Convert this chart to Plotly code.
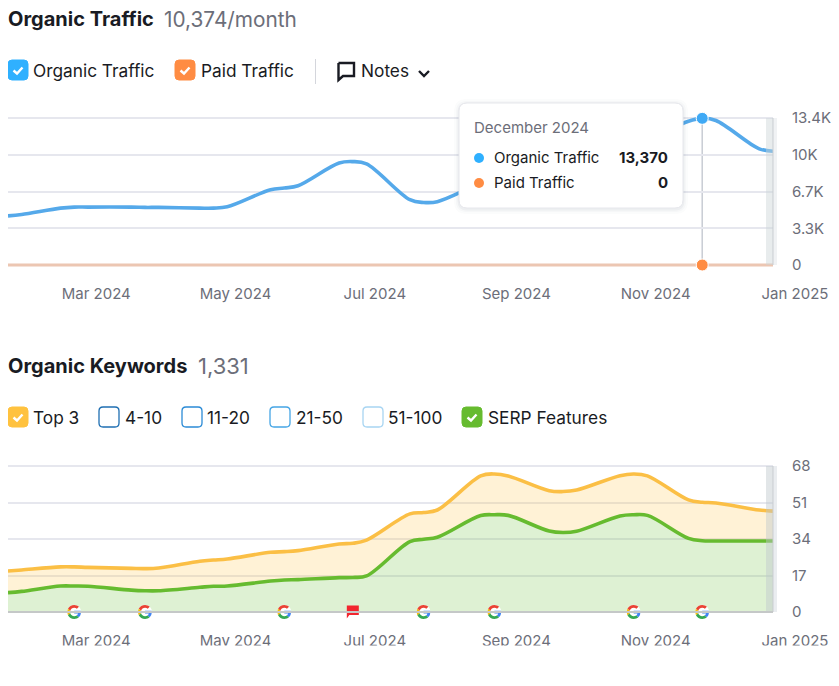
import base64
import plotly.graph_objects as go

W, H = 839, 686
BODY = 8  # page margin the browser puts around the figure
FONT = "Inter"

# read off the curve on the 1st of each month and about 6 days either side of it
# (Aug 26 - Nov 7 of the traffic line is behind the tooltip, so those are estimates)
dates = ["2024-02-01", "2024-02-07", "2024-02-24", "2024-03-01", "2024-03-07", "2024-03-26", "2024-04-01",
         "2024-04-07", "2024-04-25", "2024-05-01", "2024-05-07", "2024-05-26", "2024-06-01", "2024-06-07",
         "2024-06-25", "2024-07-01", "2024-07-07", "2024-07-26", "2024-08-01", "2024-08-07", "2024-08-26",
         "2024-09-01", "2024-09-07", "2024-09-25", "2024-10-01", "2024-10-07", "2024-10-26", "2024-11-01",
         "2024-11-07", "2024-11-25", "2024-12-01", "2024-12-07", "2024-12-26", "2025-01-01"]
organic_traffic = [4480, 4605, 5185, 5280, 5280, 5280, 5250, 5250, 5185, 5185, 5305, 6860, 7015, 7230,
                   9300, 9425, 9220, 5950, 5700, 5765, 7400, 7600, 7700, 8400, 8500, 8700, 10500, 11000,
                   11400, 13110, 13370, 13170, 10590, 10374]
paid_traffic = [0, 0, 0, 0, 0, 0, 0, 0, 0, 0, 0, 0, 0, 0, 0, 0, 0,
                0, 0, 0, 0, 0, 0, 0, 0, 0, 0, 0, 0, 0, 0, 0, 0, 0]
top3 = [19.1, 19.6, 21.0, 21.0, 20.8, 20.3, 20.2, 20.5, 23.6, 24.2, 24.7, 27.8, 28.1, 28.6, 31.7, 32.0, 33.5,
        45.7, 46.3, 47.5, 63.4, 64.3, 63.4, 56.5, 56.1, 56.8, 63.5, 64.3, 63.4, 52.2, 51.1, 50.8, 47.5, 47.0]
serp_features = [9.0, 9.6, 12.1, 12.1, 12.0, 10.2, 9.9, 9.9, 11.5, 12.0, 12.1, 14.4, 14.9, 15.1, 16.0, 16.1, 16.8,
                 32.8, 33.9, 34.8, 44.9, 45.3, 45.0, 37.7, 37.0, 37.6, 44.7, 45.3, 45.0, 34.3, 33.2, 33.1, 33.1, 33.1]

tick_months = ["2024-03-01", "2024-05-01", "2024-07-01", "2024-09-01", "2024-11-01", "2025-01-01"]
tick_labels = ["Mar 2024", "May 2024", "Jul 2024", "Sep 2024", "Nov 2024", "Jan 2025"]
traffic_ticks = [0, 3350, 6700, 10050, 13400]
traffic_tick_labels = ["0", "3.3K", "6.7K", "10K", "13.4K"]
keyword_ticks = [0, 17, 34, 51, 68]
keyword_tick_labels = ["0", "17", "34", "51", "68"]

google_updates = ["2024-03-01", "2024-04-01", "2024-06-01", "2024-08-01", "2024-09-01", "2024-11-01", "2024-12-01"]
flag_notes = ["2024-07-01"]
hover_index = dates.index("2024-12-01")

BLUE = "#55a9ea"
ORANGE = "#ff8c43"
YELLOW = "#fbbf45"
GREEN = "#66bb2f"
INK = "#191b23"
GREY = "#6c6e79"
GRID = "#e6e7ee"

FIG_W = W - BODY
FIG_H = H - BODY


def px(x):
    return (x - BODY) / FIG_W


def py(y):
    return 1 - (y - BODY) / FIG_H


def round_box(x0, y0, x1, y1, r):
    return (f"M{px(x0 + r)},{py(y0)} L{px(x1 - r)},{py(y0)} Q{px(x1)},{py(y0)} {px(x1)},{py(y0 + r)} "
            f"L{px(x1)},{py(y1 - r)} Q{px(x1)},{py(y1)} {px(x1 - r)},{py(y1)} "
            f"L{px(x0 + r)},{py(y1)} Q{px(x0)},{py(y1)} {px(x0)},{py(y1 - r)} "
            f"L{px(x0)},{py(y0 + r)} Q{px(x0)},{py(y0)} {px(x0 + r)},{py(y0)} Z")


def polyline(points):
    return "M" + " L".join(f"{px(x)},{py(y)}" for x, y in points)


shapes = []
annotations = []


def text(x, y, s, size=17.3, color=INK, weight=400, anchor="left"):
    nudge = -1 if anchor == "left" else 1
    annotations.append(dict(x=px(x + nudge), y=py(y), xref="paper", yref="paper", text=s, showarrow=False,
                            xanchor=anchor, yanchor="middle", borderpad=0,
                            font=dict(family=FONT, size=size, color=color, weight=weight)))


def checkbox(x, y, color, checked=True):
    if checked:
        shapes.append(dict(type="path", xref="paper", yref="paper", path=round_box(x, y, x + 20, y + 20, 4),
                           fillcolor=color, line=dict(color=color, width=1)))
        shapes.append(dict(type="path", xref="paper", yref="paper",
                           path=polyline([(x + 5.5, y + 10.5), (x + 9, y + 13.5), (x + 14.5, y + 7.5)]),
                           line=dict(color="white", width=2.4)))
    else:
        shapes.append(dict(type="path", xref="paper", yref="paper", path=round_box(x, y, x + 20, y + 20, 4),
                           fillcolor="white", line=dict(color=color, width=1.3)))


def line_shape(x0, y0, x1, y1, color, width=1, layer="above"):
    shapes.append(dict(type="line", xref="paper", yref="paper", x0=px(x0), y0=py(y0), x1=px(x1), y1=py(y1),
                       layer=layer, line=dict(color=color, width=width)))


def band(x0, x1, y0, y1, color):
    shapes.append(dict(type="rect", xref="paper", yref="paper", x0=px(x0), x1=px(x1), y0=py(y0), y1=py(y1),
                       fillcolor=color, line=dict(width=0)))


# headers
text(8, 19, "Organic Traffic", size=20, weight=700)
text(164, 19.5, "10,374/month", size=20.8, color=GREY)
checkbox(8, 60, "#2fb0ff")
text(33, 70.5, "Organic Traffic")
checkbox(175, 60, ORANGE)
text(201, 70.5, "Paid Traffic")
line_shape(315.5, 59, 315.5, 84, "#d4d6dc")
shapes.append(dict(type="path", xref="paper", yref="paper",
                   path=polyline([(338.5, 63), (354, 63), (354, 76), (343, 76), (338.5, 80), (338.5, 63)]),
                   line=dict(color=INK, width=2.4)))
text(361, 70.5, "Notes")
shapes.append(dict(type="path", xref="paper", yref="paper",
                   path=polyline([(419, 71), (424, 76), (429, 71)]), line=dict(color=INK, width=2.4)))

text(8, 366, "Organic Keywords", size=20, weight=700)
text(198, 366, "1,331", size=22, color=GREY)
checkbox(8, 407, "#ffc23f")
text(33, 417.5, "Top 3")
checkbox(99, 407, "#1f6fb2", checked=False)
text(125, 417.5, "4-10")
checkbox(182, 407, "#2b8bd6", checked=False)
text(207, 417.5, "11-20")
checkbox(270, 407, "#45a5e5", checked=False)
text(296, 417.5, "21-50")
checkbox(363, 407, "#a8d5f2", checked=False)
text(388, 417.5, "51-100")
checkbox(462, 407, GREEN)
text(488, 417.5, "SERP Features")

# end-of-range band, traffic then keywords
band(766, 773, 118, 265, "rgba(205,212,216,0.45)")
band(773, 777, 118, 265, "rgba(225,230,233,0.5)")
line_shape(773, 118, 773, 265, "#c9cdd1", 1)
band(766, 773, 466, 612, "rgba(190,200,205,0.45)")
band(773, 777, 466, 612, "rgba(225,230,233,0.7)")
line_shape(773, 466, 773, 612, "#c9cdd1", 1)
line_shape(8, 612, 773, 612, "#c5c8c8", 2)

# cursor line at the hovered month
shapes.append(dict(type="line", xref="x", yref="y", x0=dates[hover_index], x1=dates[hover_index],
                   y0=0, y1=organic_traffic[hover_index], layer="below", line=dict(color="#c8ccd4", width=1.5)))

# tooltip: soft shadow, then the card
for grow, alpha in [(5, 0.015), (3, 0.025), (1.5, 0.04)]:
    shapes.append(dict(type="path", xref="paper", yref="paper",
                       path=round_box(459 - grow, 103 - grow + 1, 683 + grow, 208 + grow + 1, 8 + grow),
                       fillcolor=f"rgba(30,40,70,{alpha})", line=dict(width=0)))
shapes.append(dict(type="path", xref="paper", yref="paper", path=round_box(459, 103, 683, 208, 8),
                   fillcolor="white", line=dict(color="#e6e7ec", width=1)))
text(474, 127.5, "December 2024", size=15, color=GREY)
shapes.append(dict(type="circle", xref="paper", yref="paper", x0=px(474), x1=px(484), y0=py(153), y1=py(163),
                   fillcolor="#2fb0ff", line=dict(width=0)))
text(494, 157.5, "Organic Traffic", size=15)
text(668, 157.5, f"{organic_traffic[hover_index]:,}", size=15, weight=700, anchor="right")
shapes.append(dict(type="circle", xref="paper", yref="paper", x0=px(474), x1=px(484), y0=py(178), y1=py(188),
                   fillcolor=ORANGE, line=dict(width=0)))
text(494, 182.5, "Paid Traffic", size=15)
text(668, 182.5, f"{paid_traffic[hover_index]:,}", size=15, weight=700, anchor="right")

# the reference crops its tick labels: end of "May 2024" and the descenders under the keywords chart
band(270.5, 274, 283, 303, "white")
band(270.5, 274, 630, 650, "white")
band(8, 839, 645.5, 652, "white")

google_svg = """<svg xmlns="http://www.w3.org/2000/svg" viewBox="0 0 48 48">
<circle cx="24" cy="24" r="24" fill="white"/>
<path fill="#EA4335" d="M24 9.5c3.5 0 6.700 1.200 9.200 3.600l6.900-6.900C35.900 2.400 30.500 0 24 0 14.600 0 6.500 5.400 2.600 13.200l8 6.200C12.400 13.700 17.700 9.500 24 9.500z"/>
<path fill="#4285F4" d="M47 24.500c0-1.600-.1-3.100-.4-4.500H24v9h12.900c-.6 3-2.200 5.500-4.800 7.200l7.700 6C44.400 37.900 47 31.800 47 24.500z"/>
<path fill="#FBBC05" d="M10.500 28.600c-.5-1.500-.8-3-.8-4.600s.3-3.100.8-4.600l-8-6.200C.9 16.500 0 20.100 0 24s.9 7.500 2.600 10.800l7.900-6.200z"/>
<path fill="#34A853" d="M24 48c6.500 0 11.900-2.100 15.900-5.800l-7.700-6c-2.200 1.400-4.900 2.300-8.200 2.300-6.300 0-11.600-4.200-13.500-9.900l-8 6.200C6.500 42.600 14.600 48 24 48z"/>
</svg>"""
flag_svg = """<svg xmlns="http://www.w3.org/2000/svg" viewBox="0 0 14 14">
<path fill="#f2262f" d="M1 0.500H13V10H3.500L1 13.500Z"/></svg>"""


def data_uri(svg):
    return "data:image/svg+xml;base64," + base64.b64encode(svg.encode()).decode()


DAY_MS = 86400000
PX_PER_DAY = 765 / 335
images = []
for d in google_updates:
    images.append(dict(source=data_uri(google_svg), xref="x2", yref="paper", x=d, y=py(612), sizex=14 / PX_PER_DAY * DAY_MS,
                       sizey=14 / FIG_H, xanchor="center", yanchor="middle", sizing="contain", layer="above"))
for d in flag_notes:
    images.append(dict(source=data_uri(flag_svg), xref="x2", yref="paper", x=d, y=py(612), sizex=14 / PX_PER_DAY * DAY_MS,
                       sizey=14 / FIG_H, xanchor="center", yanchor="middle", sizing="contain", layer="above"))

fig = go.Figure()
fig.add_trace(go.Scatter(x=dates, y=paid_traffic, mode="lines", name="Paid Traffic",
                         line=dict(color="#ecc6b2", width=3)))
fig.add_trace(go.Scatter(x=dates, y=organic_traffic, mode="lines", name="Organic Traffic",
                         line=dict(color=BLUE, width=3.6, shape="spline")))
fig.add_trace(go.Scatter(x=[dates[hover_index]], y=[organic_traffic[hover_index]], mode="markers", cliponaxis=False,
                         marker=dict(color="#3fa9f5", size=12, line=dict(color="white", width=1)), showlegend=False))
fig.add_trace(go.Scatter(x=[dates[hover_index]], y=[paid_traffic[hover_index]], mode="markers", cliponaxis=False,
                         marker=dict(color=ORANGE, size=12, line=dict(color="white", width=1)), showlegend=False))

fig.add_trace(go.Scatter(x=dates, y=serp_features, mode="lines", name="SERP Features", xaxis="x2", yaxis="y2",
                         fill="tozeroy", fillcolor="rgba(118,196,70,0.24)",
                         line=dict(color=GREEN, width=3.6, shape="spline")))
fig.add_trace(go.Scatter(x=dates, y=top3, mode="lines", name="Top 3", xaxis="x2", yaxis="y2",
                         fill="tonexty", fillcolor="rgba(255,196,70,0.22)",
                         line=dict(color=YELLOW, width=3.6, shape="spline")))

x_common = dict(type="date", range=[dates[0], dates[-1]], domain=[px(8), px(773)], tickmode="array",
                tickvals=tick_months, ticktext=tick_labels, ticklabelshift=22, ticklabelstandoff=16,
                ticklabeloverflow="allow", showgrid=False, zeroline=False, showline=False, ticks="",
                automargin=False, tickfont=dict(family=FONT, size=15, color=GREY))
y_common = dict(side="right", showgrid=True, gridcolor=GRID, gridwidth=1.5, zeroline=False, showline=False,
                tickmode="array", ticks="", ticklabelstandoff=18, automargin=False,
                tickfont=dict(family=FONT, size=15, color=GREY))

# a little room past both ends of each y range so the lines on 0 and on the top are not clipped in half
traffic_per_px = traffic_ticks[-1] / 147
keyword_per_px = keyword_ticks[-1] / 146

fig.update_layout(
    width=FIG_W,
    height=FIG_H,
    margin=dict(l=0, r=0, t=0, b=0),
    paper_bgcolor="white",
    plot_bgcolor="white",
    showlegend=False,
    hovermode=False,
    shapes=shapes,
    annotations=annotations,
    images=images,
    xaxis=dict(x_common, anchor="y"),
    yaxis=dict(y_common, anchor="x", domain=[py(267), py(115)],
               range=[-2 * traffic_per_px, traffic_ticks[-1] + 3 * traffic_per_px],
               tickvals=traffic_ticks, ticktext=traffic_tick_labels),
    xaxis2=dict(x_common, anchor="y2"),
    yaxis2=dict(y_common, anchor="x2", domain=[py(614), py(463)],
                range=[-2 * keyword_per_px, keyword_ticks[-1] + 3 * keyword_per_px],
                tickvals=keyword_ticks, ticktext=keyword_tick_labels),
)

fig.write_html("out.html")
